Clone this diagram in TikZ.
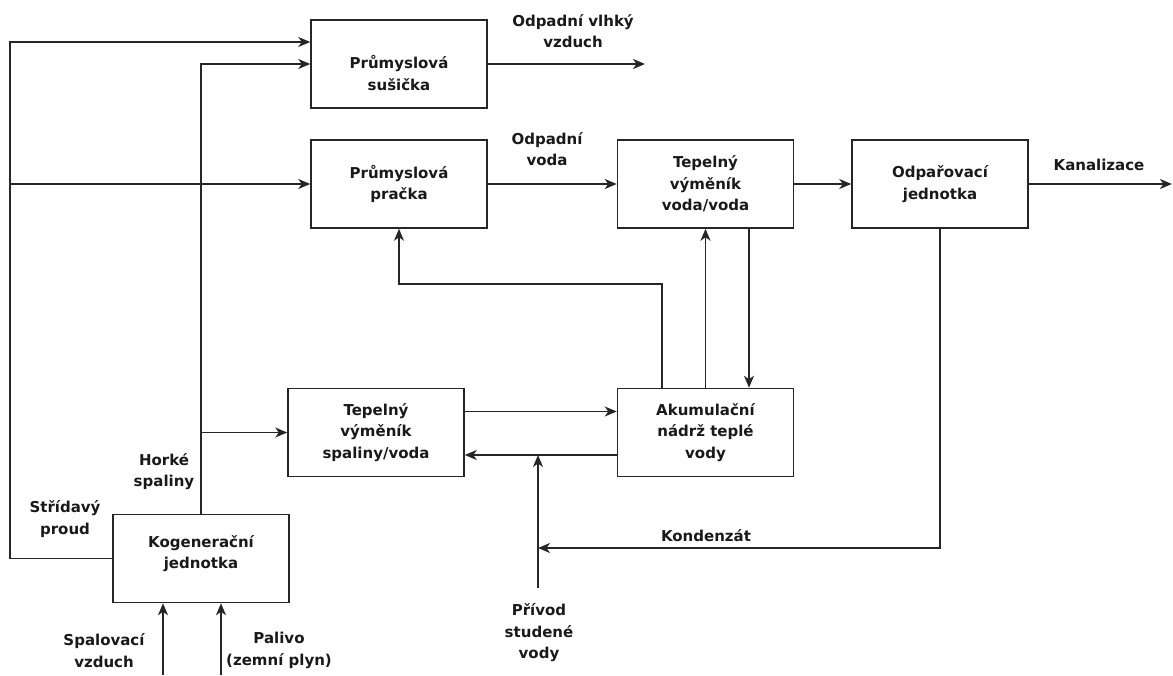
\documentclass[tikz,border=0pt]{standalone}
\usepackage{fontspec}
\setmainfont{DejaVu Sans}
\usetikzlibrary{arrows.meta}
\begin{document}
\begin{tikzpicture}[x=1pt,y=-1pt,
  box/.style={draw=black!85,line width=1.5pt,minimum width=176pt,minimum height=88pt,inner sep=0pt},
  lbl/.style={font=\fontsize{15}{21.5}\selectfont\bfseries,align=center,inner sep=0pt,text=black!90},
  arr/.style={draw=black!85,line width=1.5pt,-{Stealth[length=12pt,width=10pt,inset=3.5pt]}},
  ln/.style={draw=black!85,line width=1.5pt}]
\useasboundingbox (0,0) rectangle (1173,675);
% boxes
\node[box] (dry) at (399,64) {};
\node[box] (wash) at (399,184) {};
\node[box] (vv) at (705.5,184) {};
\node[box] (odp) at (940,184) {};
\node[box] (hxg) at (376,432.5) {};
\node[box] (acc) at (705.5,432.5) {};
\node[box] (kog) at (201,558.5) {};
% box texts
\node[lbl] (tdry) at ([yshift=-9pt]dry.center) {Průmyslová\\sušička};
\node[lbl] (twash) at (wash.center) {Průmyslová\\pračka};
\node[lbl] (tvv) at (vv.center) {Tepelný\\výměník\\voda/voda};
\node[lbl] (todp) at (odp.center) {Odpařovací\\jednotka};
\node[lbl] (thxg) at (hxg.center) {Tepelný\\výměník\\spaliny/voda};
\node[lbl] (tacc) at (acc.center) {Akumulační\\nádrž teplé\\vody};
\node[lbl] (tkog) at ([yshift=5pt]kog.center) {Kogenerační\\jednotka};
% coordinates
\coordinate (cL) at (10,558.5);
\coordinate (cOut1) at (645,64);
\coordinate (cOut2) at (1172,184);
\coordinate (cW) at (662,284);
\coordinate (cP) at (538,588);
\coordinate (cJ) at (538,455);
\coordinate (cK) at (538,548);
\coordinate (cS) at (163,675);
\coordinate (cF) at (221,675);
% connectors
\draw[arr] (kog.west) -- (cL) |- ([yshift=22pt]dry.west);
\draw[arr] (cL |- wash.west) -- (wash.west);
\draw[arr] (kog.north) |- (dry.west);
\draw[arr] (kog.north |- hxg.west) -- (hxg.west);
\draw[arr] (dry.east) -- (cOut1);
\draw[arr] (wash.east) -- (vv.west);
\draw[arr] (vv.east) -- (odp.west);
\draw[arr] (odp.east) -- (cOut2);
\draw[arr] ([xshift=-43.5pt]acc.north) -- (cW) -| (wash.south);
\draw[arr] (acc.north) -- (vv.south);
\draw[arr] ([xshift=43.5pt]vv.south) -- ([xshift=43.5pt]acc.north);
\draw[arr] ([yshift=21pt]hxg.east) -- ([yshift=21pt]acc.west);
\draw[arr] ([yshift=-22.5pt]acc.west) -- ([yshift=-22.5pt]hxg.east);
\draw[arr] (cP) -- (cJ);
\draw[arr] (odp.south) |- (cK);
\draw[arr] (cS) -- (cS |- kog.south);
\draw[arr] (cF) -- (cF |- kog.south);
% labels
\node[lbl] (l1) at (573,31) {Odpadní vlhký\\vzduch};
\node[lbl] (l2) at (547,149) {Odpadní\\voda};
\node[lbl] (l3) at (1099,165) {Kanalizace};
\node[lbl] (l4) at (706,536) {Kondenzát};
\node[lbl] (l5) at (539,633) {Přívod\\studené\\vody};
\node[lbl] (l6) at (164,471.5) {Horké\\spaliny};
\node[lbl] (l7) at (65,519) {Střídavý\\proud};
\node[lbl] (l8) at (104,650.5) {Spalovací\\vzduch};
\node[lbl] (l9) at (279,650.5) {Palivo\\(zemní plyn)};
\end{tikzpicture}
\end{document}
